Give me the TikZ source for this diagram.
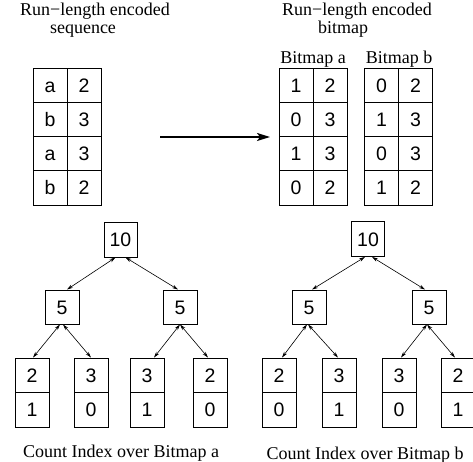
\documentclass[tikz,border=0pt]{standalone}
\usepackage{fontspec}
\setmainfont{Liberation Serif}
\newfontfamily\cellfont{Liberation Sans}
\usetikzlibrary{arrows.meta}
\begin{document}
\begin{tikzpicture}[x=1pt,y=-1pt,
  cell/.style={draw,line width=0.9pt,minimum width=34pt,minimum height=34.25pt,inner sep=0pt,
    text height=14pt,text depth=0pt,font=\cellfont\fontsize{19.5}{20}\selectfont,anchor=center},
  tbox/.style={cell,minimum height=34pt},
  ttl/.style={font=\fontsize{18}{20}\selectfont,anchor=base,inner sep=0pt},
  tarrow/.style={line width=0.6pt,{Stealth[length=6pt,width=3.5pt]}-{Stealth[length=6pt,width=3.5pt]}},
  bigarrow/.style={line width=1.8pt,-{Stealth[length=13pt,width=8pt,inset=3pt]}}
]
\useasboundingbox (0,0) rectangle (473,462);
\clip (0,0) rectangle (473,462);

% titles
\node[ttl] (t1a) at (95,16) {Run−length encoded};
\node[ttl] (t1b) at (83,33.5) {sequence};
\node[ttl] (t2a) at (357,16) {Run−length encoded};
\node[ttl] (t2b) at (343,34) {bitmap};
\node[ttl] (la) at (313,64) {Bitmap a};
\node[ttl] (lb) at (399,64) {Bitmap b};

% tables
\foreach \r/\a/\b in {1/a/2,2/b/3,3/a/3,4/b/2}{
  \node[cell] (s\r a) at (50,{85.1+34.25*(\r-1)}) {\a};
  \node[cell] (s\r b) at (84,{85.1+34.25*(\r-1)}) {\b};
}
\foreach \r/\a/\b in {1/1/2,2/0/3,3/1/3,4/0/2}{
  \node[cell] (a\r a) at (296,{85.1+34.25*(\r-1)}) {\a};
  \node[cell] (a\r b) at (330,{85.1+34.25*(\r-1)}) {\b};
}
\foreach \r/\a/\b in {1/0/2,2/1/3,3/0/3,4/1/2}{
  \node[cell] (b\r a) at (381.5,{85.1+34.25*(\r-1)}) {\a};
  \node[cell] (b\r b) at (415.5,{85.1+34.25*(\r-1)}) {\b};
}

% big arrow
\coordinate (arrS) at (160,137);
\coordinate (arrE) at (270,137);
\draw[bigarrow] (arrS) -- (arrE);

% left tree
\node[tbox,minimum width=33pt,minimum height=35pt] (ra) at (120.5,239.5) {10};
\node[tbox] (ma1) at (62,307) {5};
\node[tbox] (ma2) at (180,307) {5};
\foreach \i/\x/\c/\v in {1/32/2/1,2/91/3/0,3/147/3/1,4/210/2/0}{
  \node[tbox,minimum height=34.5pt] (pa\i t) at (\x,375.25) {\c};
  \node[tbox,minimum height=34.5pt] (pa\i b) at (\x,409.75) {\v};
}
\draw[tarrow] ([xshift=-5pt]ra.south) -- ([xshift=5pt]ma1.north);
\draw[tarrow] ([xshift=5pt]ra.south) -- ([xshift=-2pt]ma2.north);
\draw[tarrow] ([xshift=-2pt]ma1.south) -- ([xshift=1pt]pa1t.north);
\draw[tarrow] ([xshift=1pt]ma1.south) -- ([xshift=0pt]pa2t.north);
\draw[tarrow] ([xshift=0pt]ma2.south) -- ([xshift=7pt]pa3t.north);
\draw[tarrow] ([xshift=0pt]ma2.south) -- ([xshift=-2pt]pa4t.north);
\node[ttl] (capa) at (121,457) {Count Index over Bitmap a};

% right tree
\node[tbox,minimum width=33pt,minimum height=35pt] (rb) at (368,239) {10};
\node[tbox] (mb1) at (309,307) {5};
\node[tbox] (mb2) at (429,307) {5};
\foreach \i/\x/\c/\v in {1/279/2/0,2/339/3/1,3/399/3/0,4/458/2/1}{
  \node[tbox,minimum height=34.5pt] (pb\i t) at (\x,375.25) {\c};
  \node[tbox,minimum height=34.5pt] (pb\i b) at (\x,409.75) {\v};
}
\draw[tarrow] ([xshift=-3pt]rb.south) -- ([xshift=3pt]mb1.north);
\draw[tarrow] ([xshift=4pt]rb.south) -- ([xshift=-4pt]mb2.north);
\draw[tarrow] ([xshift=-2pt]mb1.south) -- ([xshift=3pt]pb1t.north);
\draw[tarrow] ([xshift=-1pt]mb1.south) -- ([xshift=-1pt]pb2t.north);
\draw[tarrow] ([xshift=-2pt]mb2.south) -- ([xshift=2pt]pb3t.north);
\draw[tarrow] ([xshift=-2pt]mb2.south) -- ([xshift=-3pt]pb4t.north);
\node[ttl] (capb) at (365,459) {Count Index over Bitmap b};
\end{tikzpicture}
\end{document}
